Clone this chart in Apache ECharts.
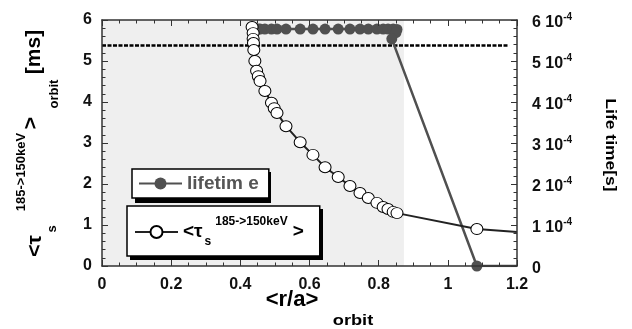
<!DOCTYPE html>
<html>
<head>
<meta charset="utf-8">
<script src="https://cdn.jsdelivr.net/npm/echarts@6/dist/echarts.min.js"></script>
<style>
  html, body { margin: 0; padding: 0; background: #fff; }
  #chart { width: 632px; height: 329px; }
</style>
</head>
<body>
<div id="chart"></div>
<script>
// slowing-down time <tau_s> (open circles, left axis, ms)
const tauR   = [0.434, 0.437, 0.437, 0.438, 0.439, 0.442, 0.447, 0.452, 0.457, 0.471, 0.490, 0.498, 0.506, 0.532,
                0.573, 0.610, 0.645, 0.683, 0.717, 0.746, 0.770, 0.795, 0.813, 0.827, 0.842, 0.853, 1.084, 1.2];
const tauVal = [5.83, 5.68, 5.54, 5.44, 5.27, 5.00, 4.76, 4.63, 4.51, 4.27, 3.98, 3.85, 3.73, 3.41,
                3.02, 2.71, 2.41, 2.17, 1.95, 1.78, 1.66, 1.54, 1.44, 1.39, 1.32, 1.29, 0.90, 0.83];

// lifetime (filled circles, right axis, s)
const lifeR   = [0.437, 0.452, 0.457, 0.471, 0.490, 0.506, 0.532, 0.573, 0.610, 0.645, 0.683, 0.717, 0.746,
                 0.770, 0.795, 0.813, 0.827, 0.842, 0.853, 0.850, 0.838, 1.084, 1.2];
const lifeVal = [5.78e-4, 5.78e-4, 5.78e-4, 5.78e-4, 5.78e-4, 5.78e-4, 5.78e-4, 5.78e-4, 5.78e-4, 5.78e-4, 5.78e-4,
                 5.78e-4, 5.78e-4, 5.78e-4, 5.78e-4, 5.78e-4, 5.78e-4, 5.78e-4, 5.77e-4, 5.69e-4, 5.54e-4, 0, 0];

// horizontal dashed reference line and shaded region
const dashR = [0, 1.177];
const dashVal = [5.38, 5.38];
const shadeR = [0, 0.873];

const FONT = "'Liberation Sans', Arial, sans-serif";

const chartDom = document.getElementById('chart');
const myChart = echarts.init(chartDom);

// last point sits on the frame, no marker there
const toPoints = (xs, ys) => xs.map((x, i) => i === xs.length - 1
    ? { value: [x, ys[i]], symbol: 'none' }
    : [x, ys[i]]);

// fresh objects for every axis; onZero off so the mirrored axes stay on their own edge
const frameAxis = (minorSplit) => ({
    axisLine: { show: true, onZero: false, lineStyle: { color: '#333', width: 1.5 } },
    axisTick: { show: true, inside: true, length: 6, lineStyle: { color: '#333', width: 1 } },
    minorTick: { show: true, splitNumber: minorSplit, length: 3.5, lineStyle: { color: '#333', width: 1 } },
    splitLine: { show: false }
});

const option = {
    animation: false,
    backgroundColor: '#fff',
    grid: { left: 102, right: 115, top: 20, bottom: 63 },
    xAxis: [
        {
            type: 'value', position: 'bottom', min: 0, max: 1.2, interval: 0.2, z: 5,
            ...frameAxis(4),
            axisLabel: { fontSize: 16, fontWeight: 'bold', color: '#111', margin: 11, fontFamily: FONT }
        },
        {
            type: 'value', position: 'top', min: 0, max: 1.2, interval: 0.2, z: 5,
            ...frameAxis(4),
            axisLabel: { show: false }
        }
    ],
    yAxis: [
        {
            type: 'value', position: 'left', min: 0, max: 6, interval: 1, z: 5,
            ...frameAxis(5),
            axisLabel: { fontSize: 16, fontWeight: 'bold', color: '#111', margin: 10, fontFamily: FONT }
        },
        {
            type: 'value', position: 'right', min: 0, max: 6e-4, interval: 1e-4, z: 5,
            ...frameAxis(5),
            axisLabel: {
                margin: 15,
                formatter: (v) => {
                    const n = Math.round(v * 1e4);
                    return n === 0 ? '{a|0}' : '{a|' + n + ' 10}{b|-4}';
                },
                rich: {
                    a: { fontSize: 16, fontWeight: 'bold', color: '#111', fontFamily: FONT, lineHeight: 16, padding: [6, 0, 0, 0] },
                    b: { fontSize: 10, fontWeight: 'bold', color: '#111', fontFamily: FONT, lineHeight: 10, verticalAlign: 'top' }
                }
            }
        }
    ],
    legend: [
        {
            data: ['lifetim e'],
            left: 132, top: 169, z: 10,
            orient: 'vertical',
            itemWidth: 43, itemHeight: 15, itemGap: 0,
            padding: [5, 10, 5, 6],
            backgroundColor: '#fff',
            borderColor: '#000', borderWidth: 1.5, borderRadius: 0,
            textStyle: { fontSize: 19, fontWeight: 'bold', color: '#555', fontFamily: FONT }
        },
        {
            data: ['tau'],
            left: 127, top: 206, z: 10,
            orient: 'vertical',
            itemWidth: 43, itemHeight: 15, itemGap: 0,
            padding: [10, 16, 8, 7],
            backgroundColor: '#fff',
            borderColor: '#000', borderWidth: 1.5, borderRadius: 0,
            formatter: () => '{m|<τ}{s|s}{p|185->150keV}{g|>}',
            textStyle: {
                fontFamily: FONT,
                rich: {
                    m: { fontSize: 19, fontWeight: 'bold', color: '#000', fontFamily: FONT, lineHeight: 32 },
                    s: { fontSize: 12, fontWeight: 'bold', color: '#000', fontFamily: FONT, lineHeight: 12, verticalAlign: 'bottom', padding: [0, 0, 0, 2] },
                    p: { fontSize: 12, fontWeight: 'bold', color: '#000', fontFamily: FONT, lineHeight: 12, verticalAlign: 'top', padding: [0, 0, 0, 4] },
                    g: { fontSize: 19, fontWeight: 'bold', color: '#000', fontFamily: FONT, lineHeight: 32, padding: [0, 0, 0, 5] }
                }
            }
        }
    ],
    series: [
        {
            name: 'shade',
            type: 'line',
            xAxisIndex: 0, yAxisIndex: 0,
            z: 0,
            data: [],
            silent: true,
            markArea: {
                silent: true,
                itemStyle: { color: '#efefef' },
                data: [[{ xAxis: shadeR[0] }, { xAxis: shadeR[1] }]]
            }
        },
        {
            name: 'ref',
            type: 'line',
            xAxisIndex: 0, yAxisIndex: 0,
            z: 2,
            data: dashR.map((x, i) => [x, dashVal[i]]),
            symbol: 'none',
            silent: true,
            lineStyle: { color: '#000', width: 2.5, type: [4, 1.5] }
        },
        {
            name: 'lifetim e',
            type: 'line',
            xAxisIndex: 0, yAxisIndex: 1,
            z: 3,
            data: toPoints(lifeR, lifeVal),
            symbol: 'circle',
            symbolSize: 11,
            itemStyle: { color: '#505050' },
            lineStyle: { color: '#505050', width: 2.5 }
        },
        {
            name: 'tau',
            type: 'line',
            xAxisIndex: 0, yAxisIndex: 0,
            z: 4,
            data: toPoints(tauR, tauVal),
            symbol: 'circle',
            symbolSize: [12, 11],
            itemStyle: { color: '#fff', borderColor: '#000', borderWidth: 1 },
            lineStyle: { color: '#222', width: 2 }
        }
    ],
    graphic: [
        // drop shadows behind the two legend boxes
        { type: 'rect', z: 9, shape: { x: 135, y: 172, width: 136, height: 31 }, style: { fill: '#000' } },
        { type: 'rect', z: 9, shape: { x: 130, y: 209, width: 193, height: 51 }, style: { fill: '#000' } },
        // left axis title, reads bottom to top
        { type: 'text', x: 35, y: 246, rotation: Math.PI / 2, style: { text: '<τ', fontSize: 21, fontWeight: 'bold', fontFamily: FONT, fill: '#000', align: 'center', verticalAlign: 'middle' } },
        { type: 'text', x: 52, y: 229, rotation: Math.PI / 2, style: { text: 's', fontSize: 13, fontWeight: 'bold', fontFamily: FONT, fill: '#000', align: 'center', verticalAlign: 'middle' } },
        { type: 'text', x: 21, y: 172, rotation: Math.PI / 2, style: { text: '185->150keV', fontSize: 13, fontWeight: 'bold', fontFamily: FONT, fill: '#000', align: 'center', verticalAlign: 'middle' } },
        { type: 'text', x: 31, y: 123, rotation: Math.PI / 2, style: { text: '>', fontSize: 21, fontWeight: 'bold', fontFamily: FONT, fill: '#000', align: 'center', verticalAlign: 'middle' } },
        { type: 'text', x: 54, y: 94, rotation: Math.PI / 2, style: { text: 'orbit', fontSize: 13, fontWeight: 'bold', fontFamily: FONT, fill: '#000', align: 'center', verticalAlign: 'middle' } },
        { type: 'text', x: 34, y: 52, rotation: Math.PI / 2, style: { text: '[ms]', fontSize: 21, fontWeight: 'bold', fontFamily: FONT, fill: '#000', align: 'center', verticalAlign: 'middle' } },
        // right axis title, reads top to bottom
        { type: 'text', x: 610, y: 145, rotation: -Math.PI / 2, scaleX: 1.25, style: { text: 'Life time[s]', fontSize: 14, fontWeight: 'bold', fontFamily: FONT, fill: '#000', align: 'center', verticalAlign: 'middle' } },
        // x axis title
        { type: 'text', x: 292, y: 300, style: { text: '<r/a>', fontSize: 22, fontWeight: 'bold', fontFamily: FONT, fill: '#000', align: 'center', verticalAlign: 'middle' } },
        { type: 'text', x: 353, y: 321, scaleX: 1.3, style: { text: 'orbit', fontSize: 14, fontWeight: 'bold', fontFamily: FONT, fill: '#000', align: 'center', verticalAlign: 'middle' } }
    ]
};

myChart.setOption(option);
</script>
</body>
</html>
